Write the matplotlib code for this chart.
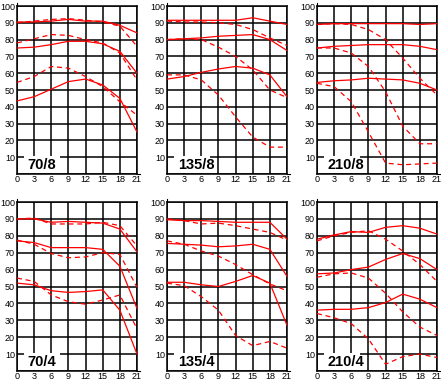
import matplotlib.pyplot as plt
from matplotlib.patches import Rectangle

plt.rcParams['font.family'] = ['Liberation Sans', 'DejaVu Sans']

# sample positions shared by every curve
x = [0, 3, 6, 9, 12, 15, 18, 21]

labels = ["70/8", "135/8", "210/8", "70/4", "135/4", "210/4"]

solid_70_8 = [[90.5, 90.5, 91, 92, 91, 91, 88.5, 84],
              [75, 75.5, 77, 79, 79, 77.5, 73, 60],
              [43.5, 46, 50.5, 55, 56.5, 53, 45, 25]]
dashed_70_8 = [[90, 91, 92, 92.5, 91.5, 90.5, 88, 76],
               [78, 80.5, 83, 82.5, 80, 78, 72, 56],
               [54.5, 58, 64, 63, 58, 52, 43, 35]]

solid_135_8 = [[91.5, 91.5, 91.5, 91.5, 91.5, 93, 91, 89],
               [80, 80.5, 81, 82, 82.5, 83, 80, 73.5],
               [56.5, 58, 60.5, 62.5, 64, 63, 59, 46]]
dashed_135_8 = [[91, 90.5, 90.5, 90, 89, 86, 81, 76.5],
                [80, 80.5, 80, 75.5, 70, 62, 50, 45.5],
                [59, 59, 56, 47, 34, 22, 16, 16]]

solid_210_8 = [[89, 89.5, 89.5, 89.5, 89.5, 89.5, 89, 89.5],
               [75, 76, 76.5, 77, 77, 77, 76, 74],
               [54.5, 55.5, 56, 57, 56.5, 56, 54, 50]]
dashed_210_8 = [[89, 89.5, 89, 86, 80, 69, 57, 47],
                [75, 75, 72, 64, 49, 28.5, 18, 18],
                [54, 52, 43, 25, 6.5, 5.5, 6, 6.5]]

solid_70_4 = [[90, 90, 88, 88.5, 88, 87.5, 84, 70.5],
              [77, 76, 73, 73, 73, 72, 62, 37],
              [52, 51, 47.5, 46.5, 47, 48, 36, 10]]
dashed_70_4 = [[90, 90.5, 87, 87, 87, 88, 86, 74],
               [77.5, 75, 69.5, 67, 67.5, 70, 69, 49.5],
               [55, 53, 45, 41, 39.5, 42, 45, 25]]

solid_135_4 = [[89.5, 89, 89, 88.5, 88, 88, 88, 78],
               [75.5, 75, 74.5, 73.5, 74, 75, 72, 56],
               [52.5, 52.5, 51, 50, 53, 56.5, 52, 27]]
dashed_135_4 = [[90, 89, 87, 87.5, 86, 84, 82, 77.5],
                [77, 75, 71, 68, 63, 57, 51.5, 47.5],
                [52, 50.5, 44, 36, 21, 15, 17.5, 13.5]]

solid_210_4 = [[78, 80.5, 82.5, 82, 85, 86, 84.5, 81],
               [57.5, 58, 60, 61.5, 66, 69.5, 66.5, 60],
               [36, 36.5, 36.5, 37.5, 40.5, 45.5, 42.5, 37.5]]
dashed_210_4 = [[77, 80, 82, 83, 78, 71, 63, 53],
                [55.5, 57.5, 58, 55, 46, 35, 26, 21],
                [34, 31.5, 28, 19, 4, 8.5, 10, 8]]

solids = [solid_70_8, solid_135_8, solid_210_8, solid_70_4, solid_135_4, solid_210_4]
dasheds = [dashed_70_8, dashed_135_8, dashed_210_8, dashed_70_4, dashed_135_4, dashed_210_4]

W, H = 441, 382
fig = plt.figure(figsize=(W / 100, H / 100), dpi=100)

lefts = [17, 167, 317]
tops = [6, 202]
heights = [168, 169]

for i in range(6):
    row, col = divmod(i, 3)
    l, t, h = lefts[col], tops[row], heights[row]
    ax = fig.add_axes([l / W, 1 - (t + h) / H, 120 / W, h / H])

    for y in solids[i]:
        ax.plot(x, y, color='red', lw=0.9, zorder=3)
    for y in dasheds[i]:
        ax.plot(x, y, color='red', lw=0.9, dashes=(4, 3), zorder=3)

    ax.set_xlim(0, 21)
    ax.set_ylim(0, 100)
    ax.set_xticks(range(0, 22, 3))
    ax.set_yticks(range(0, 101, 10))
    ax.set_yticklabels([''] + [str(v) for v in range(10, 101, 10)])
    ax.grid(True, color='black', lw=1.1)
    ax.set_axisbelow(True)
    ax.tick_params(length=0, labelsize=6.5, colors='black')
    ax.tick_params(axis='x', pad=0.5)
    ax.tick_params(axis='y', pad=1.5)
    for s in ax.spines.values():
        s.set_linewidth(1.1)
        s.set_color('black')

    # small axis-end marks
    ax.plot([0, 0], [100, 102], color='black', lw=0.8, clip_on=False)
    ax.plot([21, 21.5], [0, 0], color='black', lw=0.8, clip_on=False)

    # white box behind the panel label
    ax.add_patch(Rectangle((1.2, 0.6), 6.3, 10.0, facecolor='white',
                           edgecolor='none', zorder=2))
    ax.text(1.9, 5.3, labels[i], fontsize=10.5, fontweight='bold',
            ha='left', va='center', zorder=4)

fig.savefig('out.png', dpi=100)
